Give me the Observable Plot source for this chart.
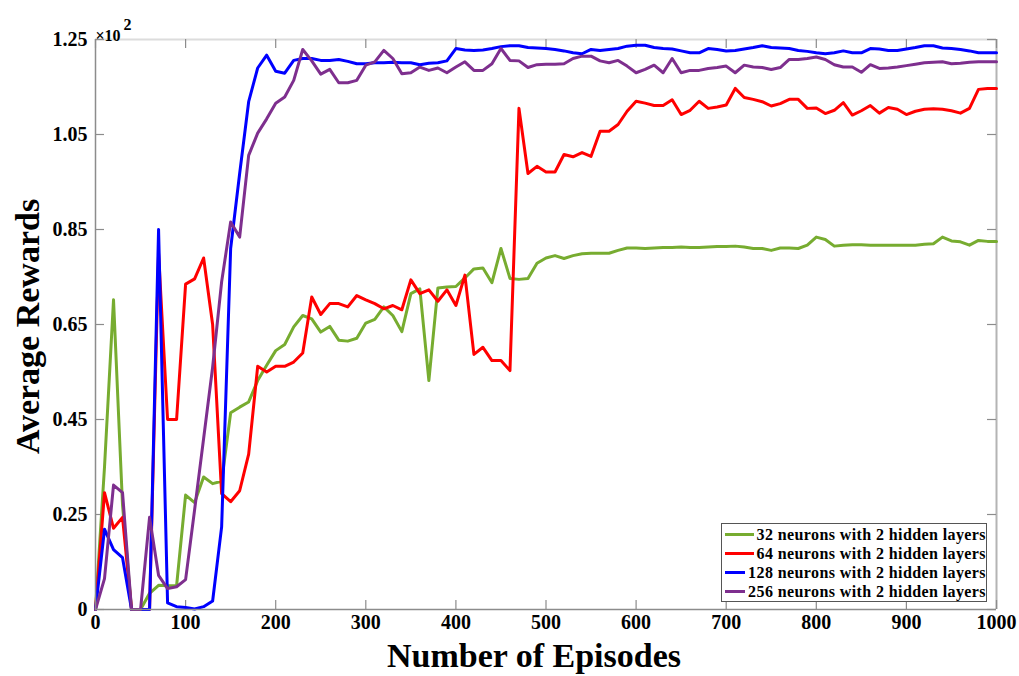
<!DOCTYPE html>
<html>
<head>
<meta charset="utf-8">
<script src="https://cdn.jsdelivr.net/npm/d3@7"></script>
<script src="https://cdn.jsdelivr.net/npm/@observablehq/plot@0.6"></script>
<style>
  html, body { margin: 0; padding: 0; background: #fff; }
  #wrap { position: relative; width: 1019px; height: 676px; font-family: "Liberation Serif", "Times New Roman", serif; }
  #legend { position: absolute; left: 721px; top: 523px; width: 264px; height: 76px; border: 1px solid #555; background: #fff; padding-top: 1px; box-sizing: content-box; }
  .item { display: flex; align-items: center; height: 19px; font-weight: bold; font-size: 16px; letter-spacing: 0.4px; color: #000; white-space: nowrap; }
  .sw { width: 32px; height: 3px; margin-left: 3px; margin-right: 3px; }
</style>
</head>
<body>
<div id="wrap"></div>
<script>
const episodes = [0,10,20,30,40,50,60,70,80,90,100,110,120,130,140,150,160,170,180,190,200,210,220,230,240,250,260,270,280,290,300,310,320,330,340,350,360,370,380,390,400,410,420,430,440,450,460,470,480,490,500,510,520,530,540,550,560,570,580,590,600,610,620,630,640,650,660,670,680,690,700,710,720,730,740,750,760,770,780,790,800,810,820,830,840,850,860,870,880,890,900,910,920,930,940,950,960,970,980,990,1000];

const seriesNames = [
  "32 neurons with 2 hidden layers",
  "64 neurons with 2 hidden layers",
  "128 neurons with 2 hidden layers",
  "256 neurons with 2 hidden layers"
];
const seriesColors = ["#77ac30", "#ff0000", "#0000ff", "#7e2f8e"];

const rewards32 = [0.05,0.35,0.702,0.27,0.05,0.05,0.084,0.101,0.10,0.10,
  0.291,0.275,0.329,0.315,0.32,0.464,0.476,0.487,0.532,0.564,
  0.595,0.608,0.645,0.669,0.662,0.634,0.646,0.617,0.615,0.621,
  0.653,0.661,0.687,0.669,0.635,0.715,0.725,0.532,0.727,0.729,
  0.730,0.748,0.767,0.769,0.738,0.810,0.747,0.745,0.747,0.779,
  0.790,0.795,0.789,0.795,0.799,0.800,0.800,0.800,0.806,0.811,
  0.811,0.810,0.811,0.812,0.812,0.813,0.812,0.812,0.813,0.814,
  0.814,0.815,0.813,0.810,0.810,0.806,0.811,0.811,0.810,0.817,
  0.834,0.829,0.815,0.817,0.818,0.818,0.817,0.817,0.817,0.817,
  0.817,0.817,0.819,0.820,0.834,0.826,0.824,0.817,0.827,0.825,0.825];

const rewards64 = [0.05,0.296,0.221,0.244,0.05,0.05,0.05,0.80,0.45,0.45,
  0.735,0.746,0.790,0.65,0.294,0.277,0.30,0.377,0.562,0.550,
  0.562,0.562,0.571,0.590,0.708,0.671,0.694,0.694,0.687,0.711,
  0.702,0.694,0.683,0.690,0.681,0.744,0.715,0.723,0.699,0.723,
  0.690,0.754,0.587,0.602,0.574,0.574,0.553,1.105,0.968,0.983,
  0.971,0.971,1.008,1.003,1.012,1.004,1.057,1.057,1.071,1.099,
  1.120,1.116,1.111,1.111,1.123,1.092,1.101,1.120,1.105,1.108,
  1.112,1.147,1.128,1.124,1.119,1.110,1.115,1.124,1.124,1.105,
  1.106,1.094,1.101,1.117,1.091,1.100,1.111,1.095,1.107,1.103,
  1.092,1.099,1.103,1.104,1.103,1.100,1.095,1.105,1.145,1.147,1.147];

const rewards128 = [0.05,0.219,0.176,0.159,0.05,0.05,0.05,0.85,0.064,0.056,
  0.054,0.051,0.056,0.068,0.224,0.810,0.968,1.119,1.190,1.217,
  1.183,1.179,1.206,1.210,1.210,1.206,1.206,1.208,1.204,1.199,
  1.199,1.201,1.201,1.202,1.201,1.201,1.197,1.200,1.201,1.205,
  1.231,1.228,1.227,1.228,1.231,1.235,1.237,1.237,1.233,1.232,
  1.231,1.229,1.226,1.222,1.220,1.229,1.227,1.229,1.231,1.236,
  1.238,1.238,1.233,1.231,1.230,1.226,1.222,1.222,1.231,1.229,
  1.226,1.227,1.230,1.233,1.237,1.233,1.232,1.231,1.227,1.225,
  1.222,1.220,1.222,1.226,1.222,1.222,1.231,1.230,1.227,1.227,
  1.230,1.233,1.237,1.237,1.232,1.231,1.229,1.226,1.222,1.222,1.222];

const rewards256 = [0.05,0.115,0.312,0.296,0.05,0.05,0.244,0.122,0.094,0.098,
  0.113,0.26,0.41,0.56,0.74,0.866,0.834,1.006,1.053,1.083,
  1.116,1.129,1.164,1.229,1.205,1.177,1.187,1.159,1.159,1.164,
  1.196,1.203,1.227,1.210,1.178,1.180,1.192,1.185,1.190,1.180,
  1.192,1.203,1.185,1.185,1.199,1.231,1.206,1.205,1.191,1.197,
  1.198,1.198,1.199,1.210,1.215,1.215,1.205,1.201,1.206,1.194,
  1.180,1.187,1.196,1.180,1.210,1.180,1.185,1.185,1.189,1.191,
  1.194,1.180,1.196,1.192,1.191,1.187,1.191,1.208,1.208,1.210,
  1.213,1.208,1.197,1.192,1.192,1.181,1.197,1.189,1.190,1.192,
  1.195,1.198,1.201,1.202,1.203,1.199,1.200,1.202,1.203,1.203,1.203];

const xTicks = [0,100,200,300,400,500,600,700,800,900,1000];
const yTicks = [0.05,0.25,0.45,0.65,0.85,1.05,1.25];
const yTickLabels = ["0","0.25","0.45","0.65","0.85","1.05","1.25"];

const allSeries = [rewards32, rewards64, rewards128, rewards256];
const rows = allSeries.flatMap((vals, s) =>
  vals.map((v, i) => ({episode: episodes[i], reward: v, series: seriesNames[s]})));

const axisGray = "#8c8c8c";

const chart = Plot.plot({
  width: 1019,
  height: 676,
  marginLeft: 95,
  marginRight: 23,
  marginTop: 39,
  marginBottom: 67,
  style: {fontFamily: "'Liberation Serif', 'Times New Roman', serif", fontWeight: "bold", fontSize: "20px", background: "#fff", color: "#000"},
  x: {domain: [0, 1000]},
  y: {domain: [0.05, 1.25]},
  color: {domain: seriesNames, range: seriesColors},
  marks: [
    Plot.ruleY([1.25], {stroke: "#dcdcdc", strokeWidth: 2}),
    Plot.ruleX([1000], {stroke: "#b4b4b4", strokeWidth: 2}),
    Plot.tickX(xTicks, {x: d => d, insetTop: 561, stroke: axisGray, strokeWidth: 1.2}),
    Plot.tickX(xTicks, {x: d => d, insetBottom: 561, stroke: axisGray, strokeWidth: 1.2}),
    Plot.tickY(yTicks, {y: d => d, insetRight: 892, stroke: axisGray, strokeWidth: 1.2}),
    Plot.tickY(yTicks, {y: d => d, insetLeft: 892, stroke: axisGray, strokeWidth: 1.2}),
    Plot.line(rows, {x: "episode", y: "reward", z: "series", stroke: "series", strokeWidth: 3, strokeLinejoin: "round"}),
    Plot.ruleY([0.05], {stroke: axisGray, strokeWidth: 1.5}),
    Plot.ruleX([0], {stroke: axisGray, strokeWidth: 1.5}),
    Plot.axisX({ticks: xTicks, tickSize: 0, tickPadding: 5, fontSize: 20, fontWeight: "bold", label: null,
      tickFormat: d => String(d)}),
    Plot.axisY({ticks: yTicks, tickSize: 0, tickPadding: 8, fontSize: 20, fontWeight: "bold", label: null,
      tickFormat: d => yTickLabels[yTicks.indexOf(d)]}),
    Plot.text(["Number of Episodes"], {text: d => d, frameAnchor: "bottom", textAnchor: "middle", dx: -12, dy: 57, fontSize: 34, fontWeight: "bold"}),
    Plot.text(["Average Rewards"], {text: d => d, frameAnchor: "left", textAnchor: "middle", rotate: -90, dx: -67, dy: 2, fontSize: 34, fontWeight: "bold"}),
    Plot.text(["×10"], {text: d => d, frameAnchor: "top-left", textAnchor: "start", dx: 0, dy: -10, fontSize: 16, fontWeight: "bold"}),
    Plot.text(["2"], {text: d => d, frameAnchor: "top-left", textAnchor: "start", dx: 28, dy: -21, fontSize: 16, fontWeight: "bold"})
  ]
});

const wrap = document.getElementById("wrap");
wrap.appendChild(chart);

const legend = document.createElement("div");
legend.id = "legend";
seriesNames.forEach((name, i) => {
  const item = document.createElement("div");
  item.className = "item";
  const sw = document.createElement("span");
  sw.className = "sw";
  sw.style.background = seriesColors[i];
  const lab = document.createElement("span");
  lab.textContent = name;
  item.appendChild(sw);
  item.appendChild(lab);
  legend.appendChild(item);
});
wrap.appendChild(legend);
</script>
</body>
</html>
